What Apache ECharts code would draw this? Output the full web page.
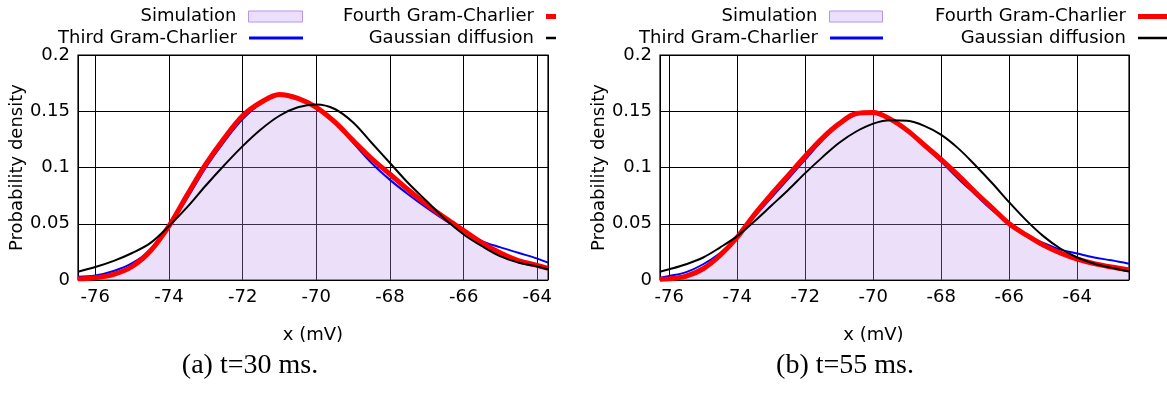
<!DOCTYPE html>
<html>
<head>
<meta charset="utf-8">
<title>Gram-Charlier densities</title>
<script src="https://cdn.jsdelivr.net/npm/echarts@6/dist/echarts.min.js"></script>
<style>
  html, body { margin: 0; padding: 0; background: #fff; }
  #chart { width: 1167px; height: 396px; }
</style>
</head>
<body>
<div id="chart"></div>
<script>
// panel (a): t = 30 ms
const xA = [-76.47, -76, -75.5, -75, -74.5, -74, -73.5, -73, -72.5, -72, -71.5, -71, -70.5, -70,
  -69.5, -69, -68.5, -68, -67.5, -67, -66.5, -66, -65.5, -65, -64.5, -64, -63.71]
const simA = [0.001, 0.002, 0.005, 0.012, 0.026, 0.048, 0.076, 0.103, 0.127, 0.147, 0.159, 0.166, 0.162, 0.1535,
  0.1405, 0.123, 0.107, 0.093, 0.080, 0.067, 0.055, 0.044, 0.033, 0.024, 0.017, 0.013, 0.011]
const gc3A = [0.003, 0.004, 0.008, 0.015, 0.027, 0.048, 0.073, 0.100, 0.123, 0.143, 0.157, 0.164, 0.161, 0.154,
  0.140, 0.122, 0.104, 0.089, 0.076, 0.064, 0.053, 0.0435, 0.0346, 0.029, 0.024, 0.019, 0.0154]
const gc4A = [0.001, 0.002, 0.005, 0.012, 0.026, 0.048, 0.076, 0.103, 0.126, 0.146, 0.158, 0.165, 0.1615, 0.1535,
  0.1405, 0.124, 0.108, 0.094, 0.080, 0.067, 0.055, 0.044, 0.033, 0.024, 0.017, 0.013, 0.0104]
const gaussA = [0.0074, 0.0115, 0.017, 0.024, 0.033, 0.048, 0.065, 0.084, 0.102, 0.119, 0.134, 0.146, 0.1535, 0.156,
  0.152, 0.140, 0.122, 0.104, 0.086, 0.070, 0.054, 0.0405, 0.030, 0.021, 0.0154, 0.012, 0.0095]

// panel (b): t = 55 ms
const xB = [-76.27, -76, -75.5, -75, -74.5, -74, -73.5, -73, -72.5, -72, -71.5, -71, -70.5, -70,
  -69.5, -69, -68.5, -68, -67.5, -67, -66.5, -66, -65.5, -65, -64.5, -64, -63.5, -63, -62.48]
const simB = [0.0006, 0.001, 0.0035, 0.010, 0.022, 0.038, 0.058, 0.076, 0.094, 0.111, 0.127, 0.140, 0.149, 0.150,
  0.143, 0.133, 0.120, 0.107, 0.093, 0.078, 0.064, 0.050, 0.040, 0.031, 0.024, 0.0185, 0.0145, 0.0115, 0.009]
const gc3B = [0.002, 0.0035, 0.007, 0.014, 0.024, 0.038, 0.056, 0.073, 0.090, 0.107, 0.124, 0.138, 0.147, 0.1495,
  0.143, 0.133, 0.119, 0.105, 0.090, 0.076, 0.062, 0.050, 0.040, 0.033, 0.027, 0.0235, 0.020, 0.0175, 0.0145]
const gc4B = [0.0006, 0.001, 0.0035, 0.010, 0.022, 0.038, 0.058, 0.076, 0.093, 0.110, 0.126, 0.139, 0.148, 0.149,
  0.143, 0.133, 0.120, 0.107, 0.093, 0.078, 0.064, 0.050, 0.040, 0.031, 0.024, 0.0185, 0.0145, 0.0115, 0.009]
const gaussB = [0.0074, 0.0095, 0.014, 0.020, 0.029, 0.039, 0.052, 0.066, 0.080, 0.095, 0.109, 0.122, 0.132, 0.139,
  0.142, 0.1415, 0.137, 0.129, 0.117, 0.102, 0.086, 0.069, 0.053, 0.039, 0.028, 0.020, 0.0145, 0.011, 0.0075]

const yTicks = [0, 0.05, 0.1, 0.15, 0.2]
const captions = ['(a) t=30 ms.', '(b) t=55 ms.']

const W = 1167
const FONT = 'DejaVu Sans'
const SIM_FILL = 'rgba(190,150,240,0.3)'

const pairs = (xs, ys) => xs.map((x, i) => [x, ys[i]])

function xAxis(idx, min, max, shift) {
  return {
    type: 'value', gridIndex: idx, min, max, splitNumber: 6,
    name: 'x (mV)', nameLocation: 'middle', nameGap: 46,
    nameTextStyle: { fontFamily: FONT, fontSize: 18, color: '#000', padding: [0, shift, 0, 0] },
    axisLine: { show: false }, axisTick: { show: false },
    axisLabel: {
      fontFamily: FONT, fontSize: 18, color: '#000', margin: 8,
      formatter: v => (Math.abs(v - Math.round(v)) < 1e-6 ? String(Math.round(v)) : '')
    },
    splitLine: { show: true, lineStyle: { color: '#000', width: 1 } }
  }
}

function yAxis(idx) {
  return {
    type: 'value', gridIndex: idx, min: yTicks[0], max: yTicks[yTicks.length - 1], interval: 0.05,
    name: 'Probability density', nameLocation: 'middle', nameGap: 51, nameRotate: 90,
    nameTextStyle: { fontFamily: FONT, fontSize: 18, color: '#000' },
    axisLine: { show: false }, axisTick: { show: false },
    axisLabel: { fontFamily: FONT, fontSize: 18, color: '#000', margin: 8 },
    splitLine: { show: true, lineStyle: { color: '#000', width: 1 } }
  }
}

function series(idx, xs, sim, gc3, gc4, gauss) {
  const base = { type: 'line', xAxisIndex: idx, yAxisIndex: idx, showSymbol: false, symbol: 'none', smooth: 0.35, silent: true }
  return [
    { ...base, name: 'Simulation', data: pairs(xs, sim), lineStyle: { width: 0 },
      itemStyle: { color: '#ecdffb' }, areaStyle: { color: SIM_FILL, opacity: 1 } },
    { ...base, name: 'Third Gram-Charlier', data: pairs(xs, gc3), lineStyle: { color: '#0000ff', width: 2 }, itemStyle: { color: '#0000ff' } },
    { ...base, name: 'Fourth Gram-Charlier', data: pairs(xs, gc4), lineStyle: { color: '#ff0000', width: 5 }, itemStyle: { color: '#ff0000' } },
    { ...base, name: 'Gaussian diffusion', data: pairs(xs, gauss), lineStyle: { color: '#000000', width: 2 }, itemStyle: { color: '#000000' } }
  ]
}

// one legend block per key entry, text right-aligned before its sample
function key(name, x1, x2, yc, h, style) {
  return {
    data: [{ name, icon: 'rect', itemStyle: style }],
    right: W - x2, top: yc - 10, itemWidth: x2 - x1, itemHeight: h,
    padding: 0, align: 'right', selectedMode: false,
    textStyle: { fontFamily: FONT, fontSize: 18, color: '#000', lineHeight: 20, padding: [0, 7, 0, 0] }
  }
}

const simStyle = { color: '#ecdffb', borderColor: '#b894ee', borderWidth: 1 }
const legends = [
  key('Simulation', 249, 303, 16.5, 11, simStyle),
  key('Third Gram-Charlier', 249, 303, 38, 3, { color: '#0000ff' }),
  key('Fourth Gram-Charlier', 546, 556, 16.5, 5, { color: '#ff0000' }),
  key('Gaussian diffusion', 546, 556, 38, 2.5, { color: '#000000' }),
  key('Simulation', 830, 883, 16.5, 11, simStyle),
  key('Third Gram-Charlier', 830, 883, 38, 3, { color: '#0000ff' }),
  key('Fourth Gram-Charlier', 1138, 1167, 16.5, 5, { color: '#ff0000' }),
  key('Gaussian diffusion', 1138, 1167, 38, 2.5, { color: '#000000' })
]

const chart = echarts.init(document.getElementById('chart'), null, { renderer: 'canvas' })
chart.setOption({
  animation: false,
  backgroundColor: '#fff',
  legend: legends,
  grid: [
    { left: 78, right: W - 548, top: 55, bottom: 116, show: true, borderColor: '#000', borderWidth: 1.2, backgroundColor: 'transparent' },
    { left: 660, right: W - 1129, top: 55, bottom: 116, show: true, borderColor: '#000', borderWidth: 1.2, backgroundColor: 'transparent' }
  ],
  xAxis: [xAxis(0, xA[0], xA[xA.length - 1], 0), xAxis(1, xB[0], xB[xB.length - 1], 42)],
  yAxis: [yAxis(0), yAxis(1)],
  series: [
    ...series(0, xA, simA, gc3A, gc4A, gaussA),
    ...series(1, xB, simB, gc3B, gc4B, gaussB)
  ],
  graphic: captions.map((text, i) => ({
    type: 'text', x: [250, 845][i], y: 366,
    style: { text, fill: '#000', font: '28px "Liberation Serif"', align: 'center', verticalAlign: 'middle' }
  }))
})
</script>
</body>
</html>
